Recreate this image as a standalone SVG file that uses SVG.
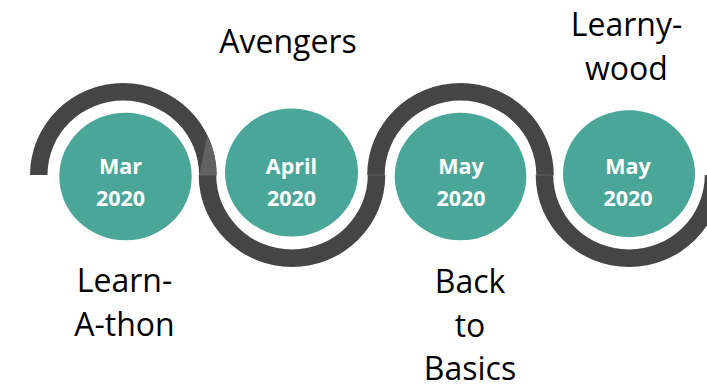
<svg xmlns="http://www.w3.org/2000/svg" width="707" height="384" viewBox="0 0 707 384">
<style>
.band{fill:#454545}
.seam{stroke:#757575;stroke-width:0.6}
.dot{fill:#4aa698}
.date{font-family:"Open Sans","Liberation Sans",sans-serif;font-weight:bold;font-size:21.5px;fill:#ffffff;text-anchor:middle}
.lbl{font-family:"Open Sans","Liberation Sans",sans-serif;font-size:32px;fill:#000000;text-anchor:middle}
</style>
<rect width="707" height="384" fill="#ffffff"/>
<g id="connectors">
<path class="band" d="M30,175 A93.3,92 0 0 1 216.6,175 L199.1,175 A75.8,74.5 0 0 0 47.5,175 Z"/>
<path class="band" d="M198.7,175 A93.3,92 0 0 0 385.3,175 L367.8,175 A75.8,74.5 0 0 1 216.2,175 Z"/>
<path class="band" d="M367.2,175 A93.3,92 0 0 1 553.8,175 L536.3,175 A75.8,74.5 0 0 0 384.7,175 Z"/>
<path class="band" d="M535.7,175 A93.3,92 0 0 0 722.3,175 L704.8,175 A75.8,74.5 0 0 1 553.2,175 Z"/>
<path fill="#626262" d="M207.3,135 A93.3,92 0 0 1 216.6,175 L199.3,175 Z"/>
<line class="seam" x1="199" y1="175" x2="216.6" y2="175"/>
<line class="seam" x1="367.5" y1="175" x2="385" y2="175"/>
<line class="seam" x1="536" y1="175" x2="553.5" y2="175"/>
</g>
<g id="node-mar">
<ellipse class="dot" cx="125.5" cy="176.5" rx="66.2" ry="63.8"/>
<text class="date" x="120.5" y="174">Mar</text>
<text class="date" x="120.5" y="205.5">2020</text>
</g>
<g id="node-april">
<ellipse class="dot" cx="291.5" cy="172.5" rx="66.5" ry="64"/>
<text class="date" x="291.5" y="174">April</text>
<text class="date" x="291.5" y="205.5">2020</text>
</g>
<g id="node-may1">
<ellipse class="dot" cx="460.5" cy="176.5" rx="65.8" ry="63.8"/>
<text class="date" x="461" y="174">May</text>
<text class="date" x="461" y="205.5">2020</text>
</g>
<g id="node-may2">
<ellipse class="dot" cx="629" cy="173.7" rx="66" ry="63.5"/>
<text class="date" x="628" y="174">May</text>
<text class="date" x="628" y="205.5">2020</text>
</g>
<g id="label-avengers">
<text class="lbl" x="288" y="53">Avengers</text>
</g>
<g id="label-learnywood">
<text class="lbl" x="626.5" y="36">Learny-</text>
<text class="lbl" x="626.5" y="80">wood</text>
</g>
<g id="label-learnathon">
<text class="lbl" x="124.5" y="292">Learn-</text>
<text class="lbl" x="124.5" y="336">A-thon</text>
</g>
<g id="label-backtobasics">
<text class="lbl" x="470" y="293">Back</text>
<text class="lbl" x="470" y="337">to</text>
<text class="lbl" x="470" y="380">Basics</text>
</g>
</svg>
